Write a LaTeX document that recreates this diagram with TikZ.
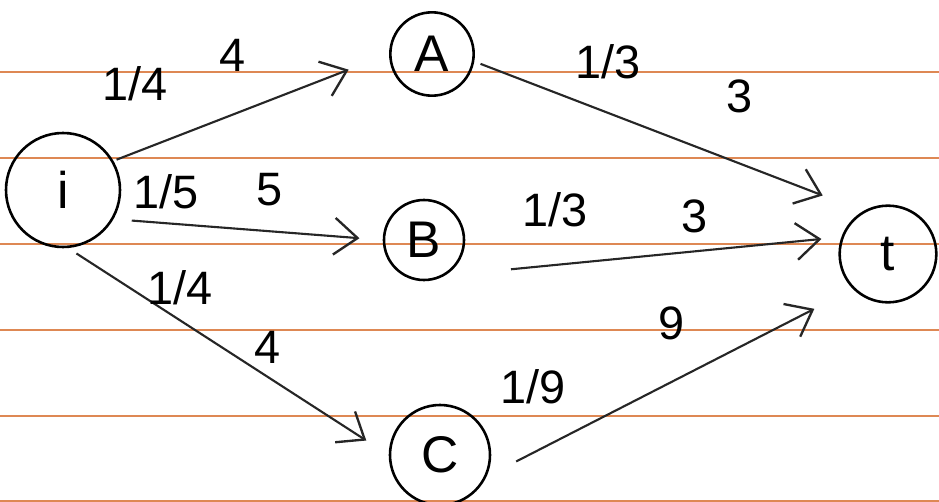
\documentclass[tikz,border=0pt]{standalone}
\usepackage{fontspec}
\setmainfont{Liberation Sans}
\usepackage{xcolor}
\usetikzlibrary{arrows.meta, positioning}
\definecolor{ruleorange}{RGB}{222,136,84}

\begin{document}
\begin{tikzpicture}[
    x=0.03cm, y=-0.03cm,
    every node/.style={font=\fontsize{40}{46}\selectfont},
    vertex/.style={circle, draw=black, line width=2.2pt, inner sep=0pt, font=\fontsize{44}{50}\selectfont},
    wlabel/.style={inner sep=0pt},
    arrow/.style={draw=black!85, line width=1.8pt, -{Straight Barb[length=7mm, width=11mm, line width=2pt]}},
    paperline/.style={draw=ruleorange, line width=2pt}
]

\useasboundingbox[fill=white] (0,0) rectangle (939,502);

% ruled paper
\foreach \y in {72,158,244,330,416,501}
    \draw[paperline] (0,\y) -- (939,\y);

\node[vertex, minimum size=3.42cm] (i) at (63,190) {i};
\node[vertex, minimum size=2.5cm] (A) at (432,54) {A};
\node[vertex, minimum size=2.4cm] (B) at (424,240) {B};
\node[vertex, minimum size=3.0cm] (C) at (440,455) {C};
\node[vertex, minimum size=2.9cm] (t) at (888,254) {t};

\draw[arrow, shorten <=1mm, shorten >=13mm] (i.30) -- (A.west);
\draw[arrow, shorten <=5.5mm, shorten >=7mm] (i.-30) -- (B.west);
\draw[arrow, shorten <=3mm, shorten >=8mm] (i.-85) -- (C.west);
\draw[arrow, shorten <=2mm, shorten >=13mm] (A.-10) -- (t.120);
\draw[arrow, shorten <=20mm, shorten >=6mm] (B.-60) -- (t.160);
\draw[arrow, shorten <=10mm, shorten >=13mm] (C.-25) -- (t.-135);

\node[wlabel] (iAf) at (135,84) {1/4};
\node[wlabel] (iAc) at (233,55) {4};
\node[wlabel] (iBf) at (166,192) {1/5};
\node[wlabel] (iBc) at (270,190) {5};
\node[wlabel] (iCf) at (180,288) {1/4};
\node[wlabel] (iCc) at (268,347) {4};
\node[wlabel] (Atf) at (608,62) {1/3};
\node[wlabel] (Atc) at (740,96) {3};
\node[wlabel] (Btf) at (555,210) {1/3};
\node[wlabel] (Btc) at (695,216) {3};
\node[wlabel] (Ctf) at (533,387) {1/9};
\node[wlabel] (Ctc) at (672,323) {9};

\end{tikzpicture}
\end{document}
